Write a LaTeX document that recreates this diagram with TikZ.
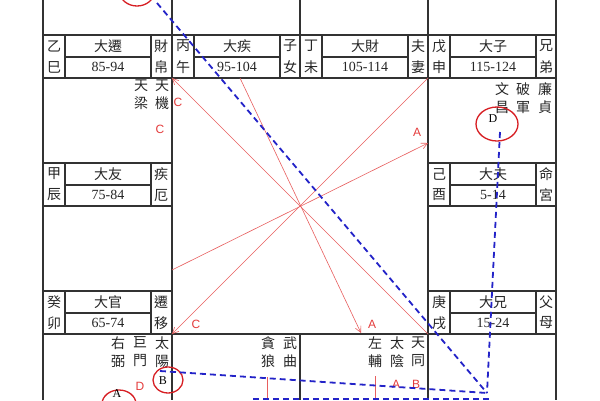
\documentclass[tikz,border=0pt]{standalone}
\usepackage{fontspec}
\setmainfont{Liberation Serif}
\newfontfamily\cjk{Noto Sans CJK TC}
\newfontfamily\lab{Liberation Sans}
\usetikzlibrary{arrows.meta}
\definecolor{framec}{RGB}{50,50,50}
\definecolor{redline}{RGB}{232,95,95}
\definecolor{redtxt}{RGB}{228,60,60}
\definecolor{redcirc}{RGB}{215,30,35}
\definecolor{bluedash}{RGB}{35,35,200}
\tikzset{
  frame/.style={draw=framec,line width=1.1pt},
  outer/.style={draw=framec,line width=1.6pt},
  zh/.style={font=\cjk\fontsize{14}{16}\selectfont,inner sep=0pt,text=black!85},
  num/.style={font=\fontsize{14}{16}\selectfont,inner sep=0pt,text=black!85},
  starcol/.style={font=\cjk\fontsize{14}{18}\selectfont,inner sep=0pt,align=center,text=black!85},
  redlab/.style={font=\lab\fontsize{12}{13}\selectfont,inner sep=0pt,text=redtxt},
  blklab/.style={font=\fontsize{12}{13}\selectfont,inner sep=0pt,text=black},
  rarrow/.style={draw=redline,line width=0.6pt,-{Straight Barb[length=6pt,width=6pt]}},
  rline/.style={draw=redline,line width=0.9pt},
  ring/.style={draw=redcirc,line width=1.3pt,ellipse,minimum width=#1},
  bdash/.style={draw=bluedash,line width=1.8pt,dash pattern=on 6pt off 4pt},
}
\newcommand\palacebox[9]{%
  \draw[frame] (#2+22,#3) -- (#2+22,#3+43) (#2+108,#3) -- (#2+108,#3+43) (#2+22,#3+22) -- (#2+108,#3+22);
  \node[zh] (#1ga) at (#2+11,#3+11) {#4};
  \node[zh] (#1gb) at (#2+11,#3+32) {#5};
  \node[zh] (#1nm) at (#2+65,#3+11) {#6};
  \node[num] (#1rg) at (#2+65,#3+32) {#7};
  \node[zh] (#1pa) at (#2+118,#3+11) {#8};
  \node[zh] (#1pb) at (#2+118,#3+32) {#9};
}
\usetikzlibrary{shapes.geometric}
\begin{document}
\begin{tikzpicture}[x=1pt,y=-1pt]
\useasboundingbox (0,0) rectangle (600,400);
\fill[white] (0,0) rectangle (600,400);
% frame
\draw[outer] (43,0) -- (43,400) (556,0) -- (556,400);
\draw[frame] (172,0) -- (172,400) (428,0) -- (428,400)
  (300,0) -- (300,78) (300,334) -- (300,400)
  (43,78) -- (556,78) (43,334) -- (556,334)
  (43,206) -- (172,206) (428,206) -- (556,206)
  (43,35) -- (556,35)
  (43,163) -- (172,163) (428,163) -- (556,163)
  (43,291) -- (172,291) (428,291) -- (556,291);
% palace strips
\palacebox{pa}{43}{35}{乙}{巳}{大遷}{85-94}{財}{帛}
\palacebox{pb}{172}{35}{丙}{午}{大疾}{95-104}{子}{女}
\palacebox{pc}{300}{35}{丁}{未}{大財}{105-114}{夫}{妻}
\palacebox{pd}{428}{35}{戊}{申}{大子}{115-124}{兄}{弟}
\palacebox{pe}{43}{163}{甲}{辰}{大友}{75-84}{疾}{厄}
\palacebox{pf}{428}{163}{己}{酉}{大夫}{5-14}{命}{宮}
\palacebox{pg}{43}{291}{癸}{卯}{大官}{65-74}{遷}{移}
\palacebox{ph}{428}{291}{庚}{戌}{大兄}{15-24}{父}{母}
% stars
\node[starcol] (s1) at (162,95) {天\\機};
\node[starcol] (s2) at (141,95) {天\\梁};
\node[starcol] (s3) at (545,98) {廉\\貞};
\node[starcol] (s4) at (523,98) {破\\軍};
\node[starcol] (s5) at (502,98) {文\\昌};
\node[starcol] (s6) at (162,352) {太\\陽};
\node[starcol] (s7) at (140,352) {巨\\門};
\node[starcol] (s8) at (118,352) {右\\弼};
\node[starcol] (s9) at (290,352) {武\\曲};
\node[starcol] (s10) at (268,352) {貪\\狼};
\node[starcol] (s11) at (418,352) {天\\同};
\node[starcol] (s12) at (397,352) {太\\陰};
\node[starcol] (s13) at (375,352) {左\\輔};
% red arrows through centre
\coordinate (c1a) at (428,334); \coordinate (c1b) at (172,78);
\coordinate (c2a) at (428,78);  \coordinate (c2b) at (172,334);
\coordinate (c3a) at (172,270); \coordinate (c3b) at (428,143);
\coordinate (c4a) at (240,78);  \coordinate (c4b) at (361,333);
\draw[rarrow] (c1a) -- (c1b);
\draw[rarrow] (c2a) -- (c2b);
\draw[rarrow] (c3a) -- (c3b);
\draw[rarrow] (c4a) -- (c4b);
\coordinate (v1a) at (267,377); \coordinate (v1b) at (267,400);
\coordinate (v2a) at (375,376); \coordinate (v2b) at (375,400);
\draw[rline] (v1a) -- (v1b);
\draw[rline] (v2a) -- (v2b);
% red labels
\node[redlab] (l1) at (178,102) {C};
\node[redlab] (l2) at (160,129) {C};
\node[redlab] (l3) at (417,132) {A};
\node[redlab] (l4) at (196,324) {C};
\node[redlab] (l5) at (372,324) {A};
\node[redlab] (l6) at (140,386) {D};
\node[redlab] (l7) at (396,384) {A};
\node[redlab] (l8) at (416,384) {B};
% circles
\node[ring=34pt,minimum height=28pt] (rtl) at (137,-8) {};
\node[ring=42pt,minimum height=34pt] (rd) at (497,124) {};
\node[blklab] (td) at (493,119) {D};
\node[ring=30pt,minimum height=26pt] (rb) at (168,380) {};
\node[blklab] (tb) at (163,381) {B};
\node[ring=34pt,minimum height=28pt] (ra) at (119,404) {};
\node[blklab] (ta) at (117,394) {A};
% blue dashed lines
\coordinate (hub) at (487,393);
\coordinate (bt) at (157,3);
\coordinate (bd) at (500,132);
\coordinate (bb) at (160,371);
\coordinate (ba) at (253,399);
\coordinate (hub2) at (490,399);
\draw[bdash] (bt) -- (hub);
\draw[bdash] (bd) -- (hub);
\draw[bdash] (bb) -- (hub);
\draw[bdash] (ba) -- (hub2);
\end{tikzpicture}
\end{document}
